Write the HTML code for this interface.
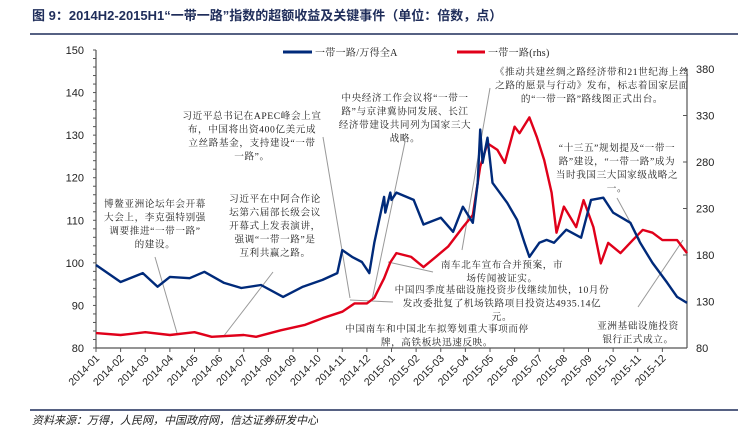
<!DOCTYPE html>
<html><head><meta charset="utf-8"><style>
body{margin:0;background:#fff;}
svg{display:block;font-family:"Liberation Sans","Noto Sans CJK SC",sans-serif;}
.ann{font-family:"Liberation Serif","Noto Serif CJK SC",serif;font-size:9.6px;fill:#222;text-anchor:middle;letter-spacing:0.6px;}
.ax{font-size:11px;fill:#222;}
.xl{font-size:10.5px;fill:#222;}
</style></head><body>
<svg id="c" width="756" height="431" viewBox="0 0 756 431">
<text x="32" y="20" font-size="13" font-weight="bold" fill="#1f2d5a" font-family="Liberation Sans,'Noto Sans CJK SC',sans-serif">图 9：2014H2-2015H1“一带一路”指数的超额收益及关键事件（单位：倍数，点）</text>
<line x1="30" y1="34" x2="738" y2="34" stroke="#1f2d5a" stroke-width="1.5"/>
<line x1="30" y1="410" x2="738" y2="410" stroke="#1f2d5a" stroke-width="1.5"/>
<text x="32" y="424" font-size="11" font-style="italic" fill="#222">资料来源：万得，人民网，中国政府网，信达证券研发中心</text>
<g id="axes"></g>
<g id="leaders" stroke="#999" stroke-width="1" fill="none"></g>
<g id="series"></g>
<g id="annos"></g>
<g>
<line x1="283" y1="52" x2="312" y2="52" stroke="#002a7a" stroke-width="3"/>
<text x="315" y="56" class="ann" style="text-anchor:start;font-size:10px;letter-spacing:0.3px">一带一路/万得全A</text>
<line x1="457" y1="52" x2="485" y2="52" stroke="#e0001a" stroke-width="3"/>
<text x="488" y="56" class="ann" style="text-anchor:start;font-size:10px;letter-spacing:0.3px">一带一路(rhs)</text>
</g>
</svg>
<script>
const monthLabels=["2014-01","2014-02","2014-03","2014-04","2014-05","2014-06","2014-07","2014-08","2014-09","2014-10","2014-11","2014-12","2015-01","2015-02","2015-03","2015-04","2015-05","2015-06","2015-07","2015-08","2015-09","2015-10","2015-11","2015-12"];
const leftTicks=[80,90,100,110,120,130,140,150];
const rightTicks=[80,130,180,230,280,330,380];
const blueT=[0,1,1.9,2.5,3,3.8,4.4,5.2,5.9,6.7,7.6,8.4,9.2,9.8,10,10.4,10.8,11.1,11.3,11.7,11.75,11.95,12,12.2,12.9,13.3,14,14.5,14.9,15.3,15.5,15.6,15.7,15.9,16.1,16.7,17.1,17.4,17.6,18,18.3,18.6,19.1,19.7,20.1,20.6,21,21.7,22.1,22.6,23.2,23.6,24];
const blueV=[99.5,95.5,97.6,94.4,96.7,96.4,97.9,95.3,94.1,94.8,92,94.4,96,97.6,103,101.4,100.2,97.6,104.7,115.5,111.8,116.5,114.8,116.5,114.8,109,110.6,107.3,113.2,109.4,118.8,131.3,123.5,129.4,118.8,114.1,110.1,104.7,101.4,104.7,105.4,104.7,107.8,105.9,114.8,115.3,111.8,109.4,104.7,100,95.3,92,90.6];
const redT=[0,1,2,3,4,4.7,6,6.5,7.5,8.5,9.2,10,10.5,11,11.3,11.7,11.95,12.2,12.8,13.3,13.8,14.3,14.9,15.3,15.6,15.9,16.3,16.6,17,17.2,17.6,17.9,18.2,18.5,18.7,19,19.5,19.8,20.2,20.5,20.8,21.3,21.8,22.2,22.6,23,23.6,24];
const redV=[96,94,97,94,97,92,94,92,99,105,112,119,128,128,134,155,172,182,178,167,178,189,210,223,275,300,293,279,318,311,328,307,282,247,204,232,210,239,210,171,193,182,196,207,204,196,196,182];
const X0=96,X1=687,Y0=348,Y1=50;
const xs=t=>X0+(X1-X0)*t/24;
const yl=v=>Y0-(Y0-Y1)*(v-80)/70;
const yr=v=>Y0-(Y0-69)*(v-80)/300;
const NS="http://www.w3.org/2000/svg";
function mk(tag,parent,attrs){const e=document.createElementNS(NS,tag);for(const k in attrs)e.setAttribute(k,attrs[k]);parent.appendChild(e);return e;}
const ax=document.getElementById('axes');
let e=mk('line',ax,{x1:X0,y1:Y1,x2:X0,y2:Y0,stroke:'#555','stroke-width':1.2});


e=mk('line',ax,{x1:X1,y1:69,x2:X1,y2:Y0,stroke:'#555','stroke-width':1.2});


e=mk('line',ax,{x1:X0,y1:Y0,x2:X1,y2:Y0,stroke:'#555','stroke-width':1.2});


for(let v=80;v<=150;v+=2){mk('line',ax,{x1:X0-3,y1:yl(v),x2:X0,y2:yl(v),stroke:'#555'});}
leftTicks.forEach(v=>{const t=mk('text',ax,{x:X0-12,y:yl(v)+4,'text-anchor':'end',class:'ax'});t.textContent=v;

});
rightTicks.forEach(v=>{mk('line',ax,{x1:X1-4,y1:yr(v),x2:X1,y2:yr(v),stroke:'#555'});const t=mk('text',ax,{x:X1+9,y:yr(v)+4,class:'ax'});t.textContent=v;

});
monthLabels.forEach((m,i)=>{const x=xs(i);mk('line',ax,{x1:x,y1:Y0,x2:x,y2:Y0+4,stroke:'#555'});
const t=mk('text',ax,{x:x+4,y:Y0+11,'text-anchor':'end',class:'xl',transform:`rotate(-45 ${x+4} ${Y0+11})`});t.textContent=m;

});
const sg=document.getElementById('series');
const pr=mk('path',sg,{d:redT.map((t,i)=>(i?'L':'M')+xs(t).toFixed(1)+','+yr(redV[i]).toFixed(1)).join(''),fill:'none',stroke:'#e0001a','stroke-width':2.4,'stroke-linejoin':'round'});


const pb=mk('path',sg,{d:blueT.map((t,i)=>(i?'L':'M')+xs(t).toFixed(1)+','+yl(blueV[i]).toFixed(1)).join(''),fill:'none',stroke:'#002a7a','stroke-width':2.4,'stroke-linejoin':'round'});


const lg=document.getElementById('leaders');
[[155,257,177,333],[273,272,223,337],[323,137,350,298],[405,142,372,300],[490,88,462,250],[617,198,640,240],[388,262,433,272],[350,300,393,302],[638,307,683,240]].forEach(l=>{mk('line',lg,{x1:l[0],y1:l[1],x2:l[2],y2:l[3]});});
const an=document.getElementById('annos');
const notes=[
[155,207,["博鳌亚洲论坛年会开幕","大会上，李克强特别强","调要推进“一带一路”","的建设。"]],
[275,202,["习近平在中阿合作论","坛第六届部长级会议","开幕式上发表演讲，","强调“一带一路”是","互利共赢之路。"]],
[252,119,["习近平总书记在APEC峰会上宣","布，中国将出资400亿美元成","立丝路基金，支持建设“一带","一路”。"]],
[405,101,["中央经济工作会议将“一带一","路”与京津冀协同发展、长江","经济带建设共同列为国家三大","战略。"]],
[592,75,["《推动共建丝绸之路经济带和21世纪海上丝","之路的愿景与行动》发布，标志着国家层面","的“一带一路”路线图正式出台。"]],
[617,151,["“十三五”规划提及“一带一","路”建设，“一带一路”成为","当时我国三大国家级战略之","一。"]],
[502,268,["南车北车宣布合并预案，市","场传闻被证实。"]],
[502,293,["中国四季度基础设施投资步伐继续加快，10月份","发改委批复了机场铁路项目投资达4935.14亿","元。"]],
[437,332,["中国南车和中国北车拟筹划重大事项而停","牌，高铁板块迅速反映。"]],
[638,329,["亚洲基础设施投资","银行正式成立。"]]];
notes.forEach(n=>{const t=mk('text',an,{x:n[0],y:n[1],class:'ann'});


n[2].forEach((s,i)=>{const sp=mk('tspan',t,{x:n[0],y:n[1]+i*13.5});sp.textContent=s;});});
</script>
</body></html>
